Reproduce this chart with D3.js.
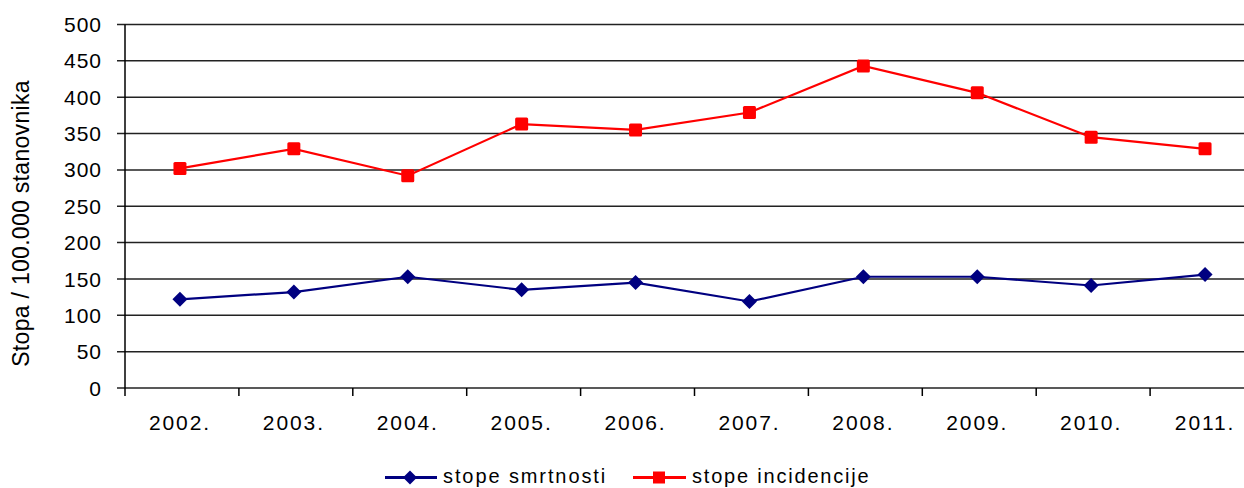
<!DOCTYPE html>
<html><head><meta charset="utf-8">
<script src="https://cdn.jsdelivr.net/npm/d3@7"></script>
<style>
html,body{margin:0;padding:0;background:#fff;overflow:hidden}
text{font-family:"Liberation Sans",Arial,sans-serif;fill:#000}
</style></head>
<body><svg id="c" width="1244" height="488"></svg>
<script>
const categories = ["2002.","2003.","2004.","2005.","2006.","2007.","2008.","2009.","2010.","2011."];
const smrtnosti = [122,132,153,135,145,119,153,153,141,156];
const incidencije = [302,329,292,363,355,379,443,406,345,329];
const yTicks = [0,50,100,150,200,250,300,350,400,450,500];
const seriesNames = ["stope smrtnosti","stope incidencije"];

(function(){
const svg = d3.select("#c");
const pLeft = 124, pRight = 1263, pTop = 24.5, pBottom = 388;
const x = d3.scaleBand().domain(categories).range([pLeft, pRight]);
const y = d3.scaleLinear().domain([0,500]).range([pBottom, pTop]);

// gridlines
svg.append("g").selectAll("line").data(yTicks).join("line")
  .attr("x1", pLeft-7).attr("x2", 1244)
  .attr("y1", d=>y(d)).attr("y2", d=>y(d))
  .attr("stroke", "#222").attr("stroke-width", 1.5);

// y labels
svg.append("g").selectAll("text").data(yTicks).join("text")
  .attr("x", 102).attr("y", d=>y(d)).attr("dy","0.36em")
  .attr("text-anchor","end").attr("font-size","21px").attr("letter-spacing","1px")
  .text(d=>d);

// axis line
svg.append("line").attr("x1",pLeft+1).attr("x2",pLeft+1).attr("y1",pTop).attr("y2",pBottom+8)
  .attr("stroke","#000").attr("stroke-width",1.5);

// x ticks
const tickPos = categories.map(c=>x(c)).slice(1);
svg.append("g").selectAll("line").data(tickPos).join("line")
  .attr("x1",d=>d+1).attr("x2",d=>d+1).attr("y1",pBottom).attr("y2",pBottom+8)
  .attr("stroke","#000").attr("stroke-width",1.5);

svg.append("g").selectAll("text").data(categories).join("text")
  .attr("x", d=>x(d)+x.bandwidth()/2-1).attr("y", 430)
  .attr("text-anchor","middle").attr("font-size","21px").attr("letter-spacing","1.9px")
  .text(d=>d);

// y title
svg.append("text").attr("transform","translate(29,223.5) rotate(-90)")
  .attr("text-anchor","middle").attr("font-size","23px").attr("letter-spacing","0.3px")
  .text("Stopa / 100.000 stanovnika");

const cx = c => x(c)+x.bandwidth()/2-1;
const line = d3.line().x((d,i)=>cx(categories[i])).y(d=>y(d));

// red series
svg.append("path").datum(incidencije).attr("d",line).attr("fill","none")
  .attr("stroke","#ff0000").attr("stroke-width",2.2);
svg.append("g").selectAll("rect").data(incidencije).join("rect")
  .attr("x",(d,i)=>cx(categories[i])-6.5).attr("y",d=>y(d)-6.5)
  .attr("width",13).attr("height",13).attr("rx",1.5).attr("fill","#ff0000");

// blue series
svg.append("path").datum(smrtnosti).attr("d",line).attr("fill","none")
  .attr("stroke","#000080").attr("stroke-width",2.2);
const diamond = (px,py,r)=>`M${px},${py-r}L${px+r},${py}L${px},${py+r}L${px-r},${py}Z`;
svg.append("g").selectAll("path").data(smrtnosti).join("path")
  .attr("d",(d,i)=>diamond(cx(categories[i]),y(d),7.5)).attr("fill","#000080");

// legend
const ly = 477.5;
svg.append("line").attr("x1",385).attr("x2",437).attr("y1",ly).attr("y2",ly)
  .attr("stroke","#000080").attr("stroke-width",3);
svg.append("path").attr("d",diamond(410,ly,7)).attr("fill","#000080");
svg.append("text").attr("x",443).attr("y",476).attr("dy","0.36em").attr("font-size","20px")
  .attr("letter-spacing","1.9px").text(seriesNames[0]);
svg.append("line").attr("x1",633).attr("x2",686).attr("y1",ly).attr("y2",ly)
  .attr("stroke","#ff0000").attr("stroke-width",3);
svg.append("rect").attr("x",653).attr("y",ly-6).attr("width",12).attr("height",12).attr("fill","#ff0000");
svg.append("text").attr("x",692).attr("y",476).attr("dy","0.36em").attr("font-size","20px")
  .attr("letter-spacing","1.8px").text(seriesNames[1]);
})();
</script></body></html>
